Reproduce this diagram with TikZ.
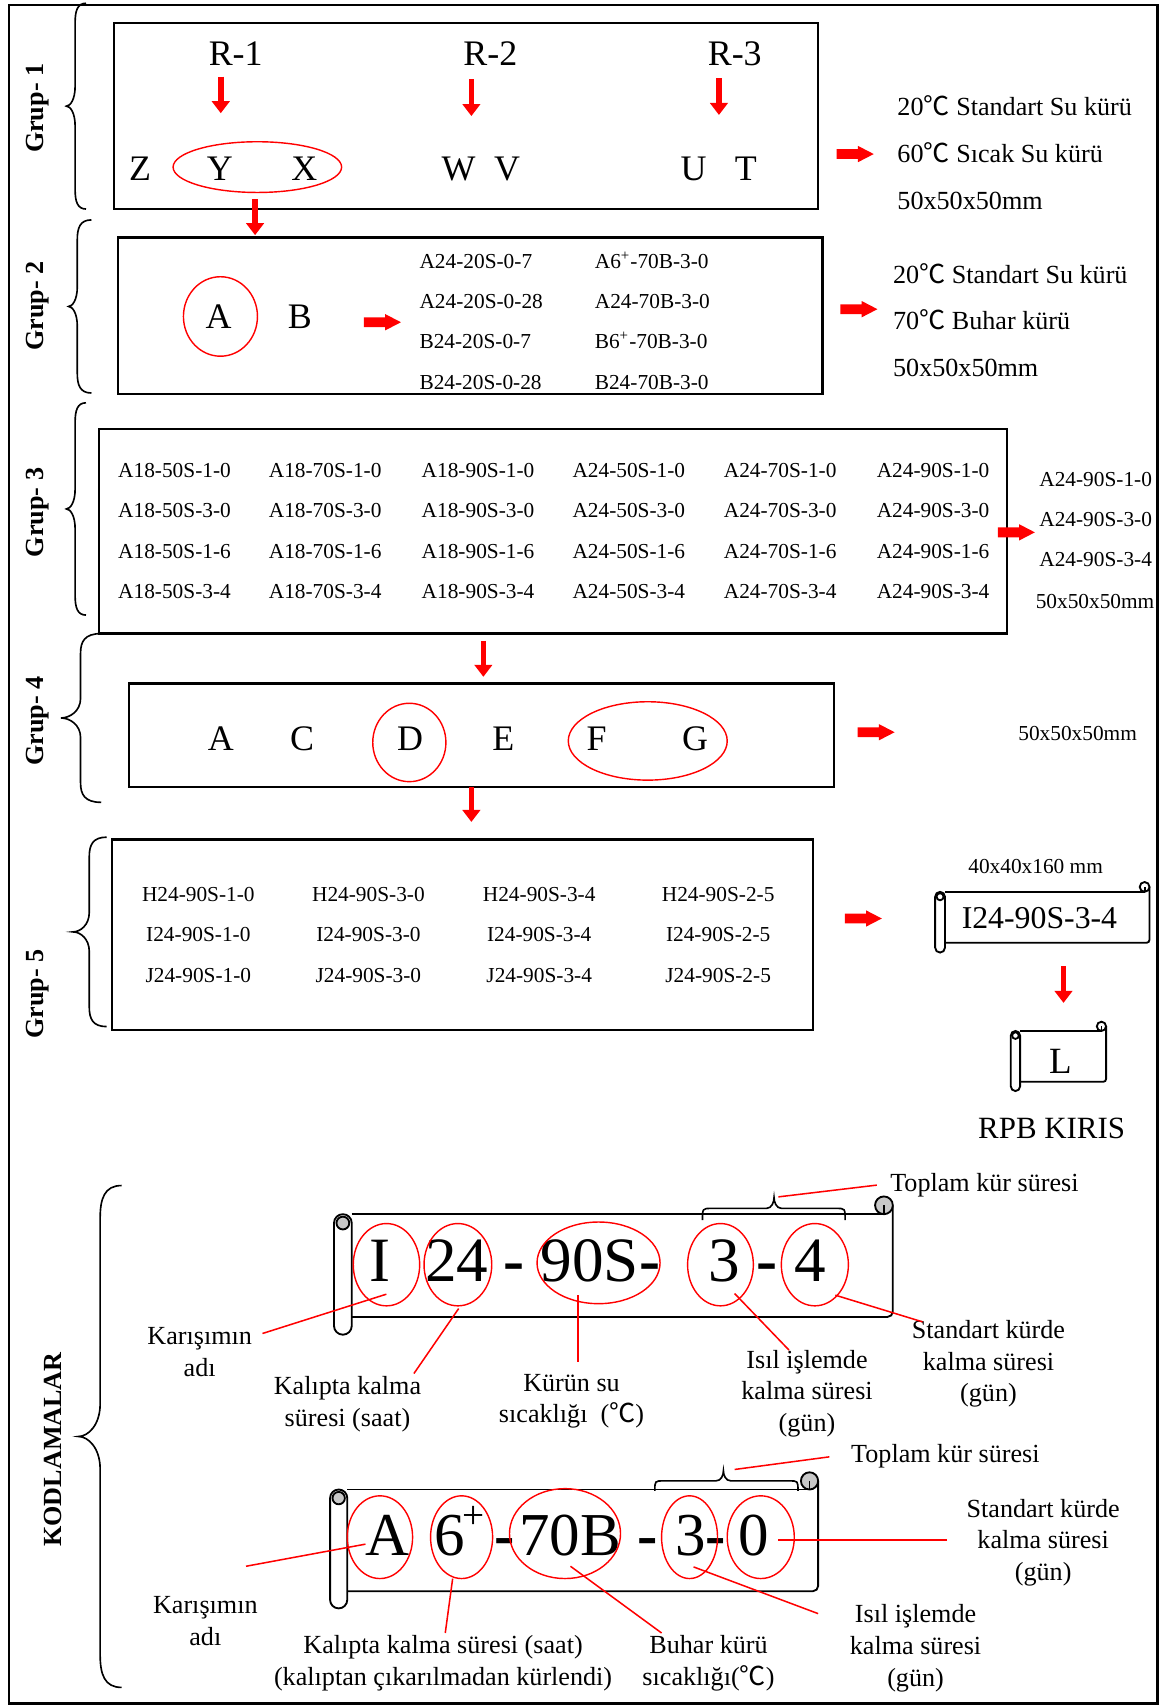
\documentclass[tikz,border=0pt]{standalone}
\usepackage{fontspec}
\setmainfont{Liberation Serif}
\newfontfamily\cjkf{Noto Sans CJK SC}
\usetikzlibrary{arrows.meta,fit,shapes.geometric}
\newcommand\dgc{{\cjkf ℃}}
\definecolor{curlgray}{RGB}{200,200,200}
% vertical left brace: end x, spine x, tip x, top y, bottom y, transition
\newcommand\mybrace[6]{%
 \pgfmathsetmacro\bM{(#4+#5)/2}%
 \draw[bracel] (#1,#4) .. controls ({#2+0.2*(#1-#2)},#4) and (#2,{#4+0.4*#6}) .. (#2,{#4+#6})
   -- (#2,{\bM-#6}) .. controls (#2,{\bM-0.35*#6}) and ({#3+0.45*(#2-#3)},\bM) .. (#3,\bM)
   .. controls ({#3+0.45*(#2-#3)},\bM) and (#2,{\bM+0.35*#6}) .. (#2,{\bM+#6})
   -- (#2,{#5-#6}) .. controls (#2,{#5-0.4*#6}) and ({#2+0.2*(#1-#2)},#5) .. (#1,#5);}
% horizontal brace: left x, right x, end y, flat y, tip x, tip y
\newcommand\myhbrace[6]{%
 \draw[bracel] (#1,#3) .. controls (#1,#4) and (#1,#4) .. ({#1+8},#4) -- ({#5-7},#4)
   .. controls ({#5-2},#4) and (#5,{#6+4}) .. (#5,#6)
   .. controls (#5,{#6+4}) and ({#5+2},#4) .. ({#5+7},#4) -- ({#2-8},#4)
   .. controls (#2,#4) and (#2,#4) .. (#2,#3);}
% block arrow: left x, centre y
\newcommand\fatarrow[2]{\fill[red] (#1,{#2-4.5}) -- ({#1+19.5},{#2-4.5}) -- ({#1+19.5},{#2-7.5})
   -- ({#1+34},#2) -- ({#1+19.5},{#2+7.5}) -- ({#1+19.5},{#2+4.5}) -- (#1,{#2+4.5}) -- cycle;}
% scroll: L T R B d curlfill
\newcommand\myscroll[6]{%
 \pgfmathsetmacro\scL{#1}\pgfmathsetmacro\scT{#2}\pgfmathsetmacro\scR{#3}\pgfmathsetmacro\scB{#4}%
 \pgfmathsetmacro\scD{#5}\pgfmathsetmacro\scH{#5/2}\pgfmathsetmacro\scRad{#5*0.25}\pgfmathsetmacro\scCr{#5*0.15}%
 \draw[scrl] ({\scL+\scD},\scT) -- ({\scR-\scH},\scT);
 \draw[scrl,rounded corners=\scCr pt] (\scR,{\scT-\scH}) -- (\scR,\scB) -- ({\scL+\scD},\scB);
 \filldraw[scrl,fill=#6] ({\scR-\scH},{\scT-\scH}) circle[radius=\scH];
 \draw[scrl] ({\scR-\scH},{\scT-\scH}) -- ({\scR-\scH},\scT);
 \filldraw[scrl,fill=white,rounded corners=\scRad pt] (\scL,\scT) rectangle ({\scL+\scD},{\scB+\scD});
 \filldraw[scrl,fill=#6] ({\scL+\scH},{\scT+\scH}) circle[radius={0.36*\scD}];}
\begin{document}
\begin{tikzpicture}[x=0.5pt,y=-0.5pt,
  gbox/.style={draw=black,line width=1.1pt,inner sep=0pt},
  redell/.style={draw=red,line width=0.65pt,ellipse,inner sep=0pt},
  redarr/.style={draw=red,line width=2.6pt,-{Triangle[width=8pt,length=5.5pt]}},
  redln/.style={draw=red,line width=0.7pt},
  bracel/.style={draw=black,line width=0.75pt},
  scrl/.style={draw=black,line width=0.85pt},
  big/.style={inner sep=0pt,anchor=base,font=\fontsize{16.5}{19}\selectfont},
  code/.style={inner sep=0pt,anchor=base west,font=\fontsize{9.8}{11}\selectfont},
  codec/.style={inner sep=0pt,anchor=base,font=\fontsize{9.8}{11}\selectfont},
  side/.style={inner sep=0pt,anchor=base west,font=\fontsize{12}{14}\selectfont},
  sidec/.style={inner sep=0pt,anchor=base,font=\fontsize{12}{14}\selectfont},
  lbl/.style={inner sep=0pt,align=center,font=\fontsize{12}{14.5}\selectfont},
  grp/.style={inner sep=0pt,rotate=90,font=\fontsize{12}{14}\selectfont\bfseries},
  hugeA/.style={inner sep=0pt,anchor=base,font=\fontsize{29}{32}\selectfont},
  hugeB/.style={inner sep=0pt,anchor=base,font=\fontsize{28}{32}\selectfont},
]
\useasboundingbox (0,0) rectangle (1073,1568);
\fill[white] (0,0) rectangle (1073,1568);
\node[draw=black,line width=1.2pt,inner sep=0pt,fit={(8.2,4.6)(1063,1565)}] (frame) {};

% ---------------- Grup 1
\node[gbox,fit={(104.8,21.4)(751.5,192)}] (b1) {};
\mybrace{79}{69}{61}{3}{192}{18}
\node[grp] (g1) at (34.2,99.5) {Grup- 1};
\node[big] (R1) at (216.5,60.6) {R-1};
\node[big] (R2) at (450.4,60.6) {R-2};
\node[big] (R3) at (674.9,60.6) {R-3};
\node[big] (Z) at (128.8,165.4) {Z};
\node[big] (Y) at (202,165.4) {Y};
\node[big] (X) at (279.5,165.4) {X};
\node[big] (W) at (421.3,165.4) {W};
\node[big] (V) at (465.8,165.4) {V};
\node[big] (U) at (637,165.4) {U};
\node[big] (T) at (685,165.4) {T};
\node[redell,minimum width=77.4pt,minimum height=23.3pt] (eYX) at (236.4,153.5) {};
\coordinate (a1s) at (202.8,70.5); \coordinate (a1e) at (202.8,104);
\coordinate (a2s) at (433,73); \coordinate (a2e) at (433,106.6);
\coordinate (a3s) at (660.4,72); \coordinate (a3e) at (660.4,105.6);
\coordinate (a4s) at (234.3,183); \coordinate (a4e) at (234.3,216);
\draw[redarr] (a1s) -- (a1e);
\draw[redarr] (a2s) -- (a2e);
\draw[redarr] (a3s) -- (a3e);
\draw[redarr] (a4s) -- (a4e);
\fatarrow{768.6}{141.5}
\node[side] (s11) at (824,105.7) {20\dgc\ Standart Su kürü};
\node[side] (s12) at (824,149) {60\dgc\ Sıcak Su kürü};
\node[side] (s13) at (824,192) {50x50x50mm};

% ---------------- Grup 2
\node[gbox,fit={(108.2,218)(755.6,362)}] (b2) {};
\mybrace{84}{71}{63}{202}{361}{18}
\node[grp] (g2) at (34.2,281) {Grup- 2};
\node[big] (A2) at (200.7,301.5) {A};
\node[big] (B2) at (275.4,301.5) {B};
\node[redell,minimum width=34pt,minimum height=36.5pt] (eA2) at (202.5,290.7) {};
\fatarrow{334.3}{296}
\node[code] (c21) at (385,246.5) {A24-20S-0-7};
\node[code] (c22) at (385,283) {A24-20S-0-28};
\node[code] (c23) at (385,320) {B24-20S-0-7};
\node[code] (c24) at (385,357.4) {B24-20S-0-28};
\node[code] (c25) at (546,246.5) {A6\textsuperscript{+}-70B-3-0};
\node[code] (c26) at (546,283) {A24-70B-3-0};
\node[code] (c27) at (546,320) {B6\textsuperscript{+}-70B-3-0};
\node[code] (c28) at (546,357.4) {B24-70B-3-0};
\fatarrow{772}{284}
\node[side] (s21) at (820,260) {20\dgc\ Standart Su kürü};
\node[side] (s22) at (820,303) {70\dgc\ Buhar kürü};
\node[side] (s23) at (820,346) {50x50x50mm};

% ---------------- Grup 3
\node[gbox,fit={(91.1,394)(924.8,582)}] (b3) {};
\mybrace{79}{69}{61}{370}{565}{18}
\node[grp] (g3) at (34.2,470.8) {Grup- 3};
\foreach \pre/\xx [count=\j] in {A18-50S/108.2,A18-70S/246.6,A18-90S/387,A24-50S/525.5,A24-70S/664.5,A24-90S/805}{
  \foreach \suf/\yy [count=\i] in {1-0/438.5,3-0/475.3,1-6/513,3-4/549.7}{
    \node[code] (g3-\i-\j) at (\xx,\yy) {\pre-\suf};
  }
}
\fatarrow{916.6}{489}
\node[code] (s31) at (954.3,446.5) {A24-90S-1-0};
\node[code] (s32) at (954.3,483.2) {A24-90S-3-0};
\node[code] (s33) at (954.3,520) {A24-90S-3-4};
\node[code] (s34) at (951,558.8) {50x50x50mm};

% ---------------- Grup 4
\coordinate (a5s) at (444,588.6); \coordinate (a5e) at (444,621.7);
\draw[redarr] (a5s) -- (a5e);
\node[gbox,fit={(118.5,628)(766,723)}] (b4) {};
\mybrace{93}{74}{56}{582}{737}{18}
\node[grp] (g4) at (34.2,662.2) {Grup- 4};
\node[big] (A4) at (202.8,689) {A};
\node[big] (C4) at (277.5,689) {C};
\node[big] (D4) at (376.8,689) {D};
\node[big] (E4) at (462.4,689) {E};
\node[big] (F4) at (548,689) {F};
\node[big] (G4) at (638.5,689) {G};
\node[redell,minimum width=33.6pt,minimum height=36pt] (eD4) at (376,682) {};
\node[redell,minimum width=73pt,minimum height=36pt] (eFG4) at (595,680.6) {};
\fatarrow{787.8}{672.6}
\node[code] (s41) at (935,680) {50x50x50mm};
\coordinate (a6s) at (433,722.7); \coordinate (a6e) at (433,755);
\draw[redarr] (a6s) -- (a6e);

% ---------------- Grup 5
\node[gbox,fit={(102.8,771)(746.7,946)}] (b5) {};
\mybrace{98}{82}{67}{769}{943}{18}
\node[grp] (g5) at (34.2,913.3) {Grup- 5};
\foreach \pre/\yy [count=\i] in {H/828.4,I/865.1,J/902.4}{
  \foreach \suf/\xx [count=\j] in {1-0/182.2,3-0/338.4,3-4/495.3,2-5/659.7}{
    \node[codec] (g5-\i-\j) at (\xx,\yy) {\pre24-90S-\suf};
  }
}
\fatarrow{776}{843.7}
\node[codec] (s51) at (951.3,802.3) {40x40x160 mm};
\myscroll{859}{819.2}{1055.9}{866}{9}{white}
\node[inner sep=0pt,anchor=base,font=\fontsize{14.6}{17}\selectfont] (sc1) at (954.8,852.9) {I24-90S-3-4};
\coordinate (a7s) at (976.9,887.5); \coordinate (a7e) at (976.9,921.2);
\draw[redarr] (a7s) -- (a7e);
\myscroll{928.5}{947}{1016}{993.7}{8.5}{white}
\node[inner sep=0pt,anchor=base,font=\fontsize{17}{19}\selectfont] (scL) at (974,986) {L};
\node[inner sep=0pt,anchor=base,font=\fontsize{14.2}{17}\selectfont] (rpb) at (966,1045.8) {RPB KIRIS};

% ---------------- KODLAMALAR
\mybrace{111.7}{92}{72}{1089}{1550}{30}
\node[grp] (kod) at (49,1331.5) {KODLAMALAR};

% scroll 1
\myscroll{306.8}{1115.3}{820.1}{1209.7}{16.3}{curlgray}
\node[hugeA] (t1I) at (349,1177.5) {I};
\node[hugeA] (t124) at (419.5,1177.5) {24};
\node[hugeA] (t1d1) at (472,1177.5) {\bfseries -};
\node[hugeA] (t190S) at (551.5,1177.5) {90S\textbf{-}};
\node[hugeA] (t13) at (665.2,1177.5) {3};
\node[hugeA] (t1d2) at (705,1177.5) {\bfseries -};
\node[hugeA] (t14) at (744,1177.5) {4};
\node[redell,minimum width=30.5pt,minimum height=37.8pt] (e1I) at (355,1161.7) {};
\node[redell,minimum width=31.1pt,minimum height=37.8pt] (e124) at (420.6,1161.7) {};
\node[redell,minimum width=56.5pt,minimum height=37.5pt] (e190S) at (549.8,1160) {};
\node[redell,minimum width=30.2pt,minimum height=37.8pt] (e13) at (661.8,1161.7) {};
\node[redell,minimum width=30.8pt,minimum height=37.8pt] (e14) at (748.5,1161.7) {};
\myhbrace{645.3}{776.3}{1120.8}{1110}{711}{1100}
\node[sidec] (top1) at (904.3,1094.8) {Toplam kür süresi};
\coordinate (tp1a) at (715,1099.4); \coordinate (tp1b) at (805.4,1088.6);
\draw[redln] (tp1a) -- (tp1b);
\node[lbl] (l1a) at (183.4,1242) {Karışımın\\adı};
\node[lbl] (l1b) at (319.2,1290) {Kalıpta kalma\\süresi (saat)};
\node[lbl] (l1c) at (525,1287) {Kürün su\\sıcaklığı\ \ (\dgc)};
\node[lbl] (l1d) at (741.3,1280) {Isıl işlemde\\kalma süresi\\(gün)};
\node[lbl] (l1e) at (908,1253) {Standart kürde\\kalma süresi\\(gün)};
\coordinate (k1a) at (241.1,1224.9); \coordinate (k1b) at (354.9,1188.8);
\coordinate (k2a) at (380.2,1261.7); \coordinate (k2b) at (421.3,1202);
\coordinate (k3a) at (531,1251); \coordinate (k3b) at (531,1189.7);
\coordinate (k4a) at (724.8,1240.2); \coordinate (k4b) at (674.8,1188.2);
\coordinate (k5a) at (847.4,1214.2); \coordinate (k5b) at (767.3,1189.7);
\draw[redln] (k1a) -- (k1b);
\draw[redln] (k2a) -- (k2b);
\draw[redln] (k3a) -- (k3b);
\draw[redln] (k4a) -- (k4b);
\draw[redln] (k5a) -- (k5b);

% scroll 2
\myscroll{303.2}{1368.2}{751.5}{1461.6}{15.8}{curlgray}
\node[hugeB] (t2A) at (356.3,1428.6) {A};
\node[hugeB] (t26) at (412.8,1428.6) {6};
\node[inner sep=0pt,font=\fontsize{18}{20}\selectfont] (t2p) at (435,1393.4) {+};
\node[hugeB] (t2d1) at (463.5,1428.6) {\bfseries -};
\node[hugeB] (t270B) at (523.7,1428.6) {70B};
\node[hugeB] (t2d2) at (594.7,1428.6) {\bfseries -};
\node[hugeB] (t23) at (634.7,1428.6) {3};
\node[hugeB] (t2d3) at (657,1428.6) {\bfseries -};
\node[hugeB] (t20) at (691.9,1428.6) {0};
\node[redell,minimum width=30pt,minimum height=38pt] (e2A) at (349,1412) {};
\node[redell,minimum width=28.5pt,minimum height=38pt] (e26) at (424,1412) {};
\node[redell,minimum width=51pt,minimum height=41.3pt] (e270B) at (519,1408.7) {};
\node[redell,minimum width=25.7pt,minimum height=38pt] (e23) at (633.4,1412) {};
\node[redell,minimum width=30.8pt,minimum height=38pt] (e20) at (698.8,1412) {};
\myhbrace{601.5}{733}{1369.5}{1360.3}{664.5}{1351}
\node[sidec] (top2) at (868.4,1343.8) {Toplam kür süresi};
\coordinate (tp2a) at (674.8,1349.8); \coordinate (tp2b) at (761.8,1338.2);
\draw[redln] (tp2a) -- (tp2b);
\node[lbl] (l2a) at (188.6,1489) {Karışımın\\adı};
\node[lbl] (l2b) at (407,1528) {Kalıpta kalma süresi (saat)\\(kalıptan çıkarılmadan kürlendi)};
\node[lbl] (l2c) at (650.8,1528) {Buhar kürü\\sıcaklığı(\dgc)};
\node[lbl] (l2d) at (841,1514) {Isıl işlemde\\kalma süresi\\(gün)};
\node[lbl] (l2e) at (958.2,1417) {Standart kürde\\kalma süresi\\(gün)};
\coordinate (m1a) at (226,1438.7); \coordinate (m1b) at (335.7,1418.4);
\coordinate (m2a) at (409,1500); \coordinate (m2b) at (415.8,1450);
\coordinate (m3a) at (607.7,1500); \coordinate (m3b) at (524,1438.7);
\coordinate (m4a) at (751.5,1482.2); \coordinate (m4b) at (637.1,1439.3);
\coordinate (m5a) at (870,1414.8); \coordinate (m5b) at (714.5,1414.8);
\draw[redln] (m1a) -- (m1b);
\draw[redln] (m2a) -- (m2b);
\draw[redln] (m3a) -- (m3b);
\draw[redln] (m4a) -- (m4b);
\draw[redln] (m5a) -- (m5b);
\end{tikzpicture}
\end{document}
